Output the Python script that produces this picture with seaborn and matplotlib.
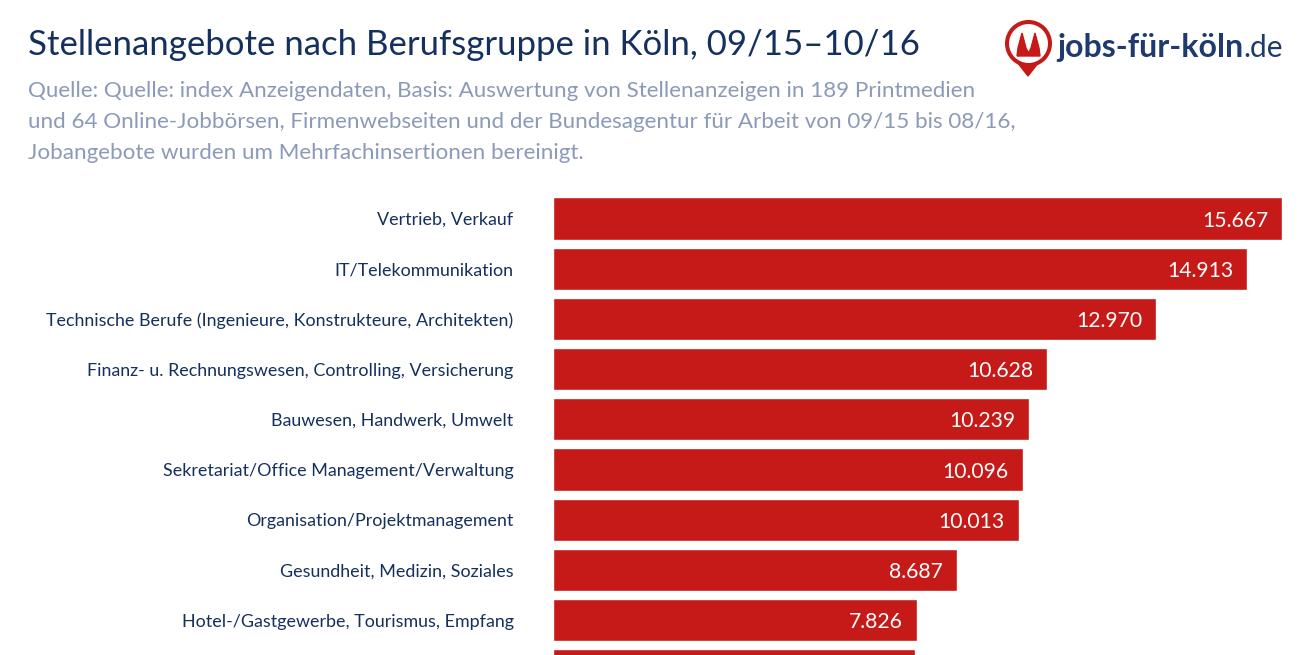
import matplotlib
matplotlib.use("Agg")
import matplotlib.pyplot as plt
from matplotlib.patches import Circle, Polygon
import pandas as pd
import seaborn as sns

categories = ["Vertrieb, Verkauf", "IT/Telekommunikation",
              "Technische Berufe (Ingenieure, Konstrukteure, Architekten)",
              "Finanz- u. Rechnungswesen, Controlling, Versicherung",
              "Bauwesen, Handwerk, Umwelt",
              "Sekretariat/Office Management/Verwaltung",
              "Organisation/Projektmanagement",
              "Gesundheit, Medizin, Soziales",
              "Hotel-/Gastgewerbe, Tourismus, Empfang",
              " "]
values = [15667, 14913, 12970, 10628, 10239, 10096, 10013, 8687, 7826, 7780]
value_labels = ["15.667", "14.913", "12.970", "10.628", "10.239",
                "10.096", "10.013", "8.687", "7.826", ""]

TITLE = "Stellenangebote nach Berufsgruppe in Köln, 09/15–10/16"
SOURCE = ["Quelle: Quelle: index Anzeigendaten, Basis: Auswertung von Stellenanzeigen in 189 Printmedien",
          "und 64 Online-Jobbörsen, Firmenwebseiten und der Bundesagentur für Arbeit von 09/15 bis 08/16,",
          "Jobangebote wurden um Mehrfachinsertionen bereinigt."]

RED = "#C51A17"
NAVY = "#14305F"
GREY = "#8B9AB8"
W, H = 1310, 655

sns.set_theme(style="white")
plt.rcParams["font.family"] = ["Lato", "DejaVu Sans"]

df = pd.DataFrame({"category": categories, "value": values})

fig = plt.figure(figsize=(W / 100, H / 100), dpi=100, facecolor="white")
ax = fig.add_axes([552.5 / W, 0, 1 - 552.5 / W, 462 / H])
sns.barplot(data=df, y="category", x="value", color=RED, width=0.837,
            saturation=1, ax=ax)
ax.set_xlim(0, 757.5 / 729.5 * values[0])
ax.set_ylim(8.695, -0.508)
ax.set_xlabel("")
ax.set_ylabel("")
ax.set_xticks([])
ax.tick_params(axis="y", length=0, pad=28, labelsize=12.85, labelcolor=NAVY)
sns.despine(ax=ax, left=True, bottom=True)
ax.bar_label(ax.containers[0], labels=value_labels, padding=-10, label_type="edge",
             color="white", fontsize=15.2)
for lab in ax.texts:
    lab.set_ha("right")
    lab.set_va("center")
    lab.xyann = (-10, -1.5)

# header, positions in pixels
fig.text(28 / W, 1 - 45 / H, TITLE, color=NAVY, fontsize=25, va="center", ha="left")
for i, line in enumerate(SOURCE):
    fig.text(28 / W, 1 - (91 + i * 31) / H, line, color=GREY, fontsize=16.15,
             va="center", ha="left")

# logo
logo = fig.add_axes([0, 0, 1, 1], facecolor="none")
logo.set_xlim(0, W)
logo.set_ylim(H, 0)
logo.axis("off")
logo.add_patch(Polygon([(1017, 62), (1039, 62), (1028, 76)], color=RED))
logo.add_patch(Circle((1028.5, 43.5), 21.5, fc="white", ec=RED, lw=2.9))
logo.add_patch(Polygon([(1017, 56), (1018, 48), (1022, 33), (1026, 48), (1028.5, 53),
                        (1031, 48), (1035, 33), (1039, 48), (1040, 56)], color=RED))
logo.text(1057, 47, "jobs-für-köln", color="#1E3A6E", fontsize=23,
          fontweight="bold", va="center", ha="left")
logo.text(1243, 48, ".de", color="#1E3A6E", fontsize=21.5, va="center", ha="left")

fig.savefig("out.png", dpi=100)
